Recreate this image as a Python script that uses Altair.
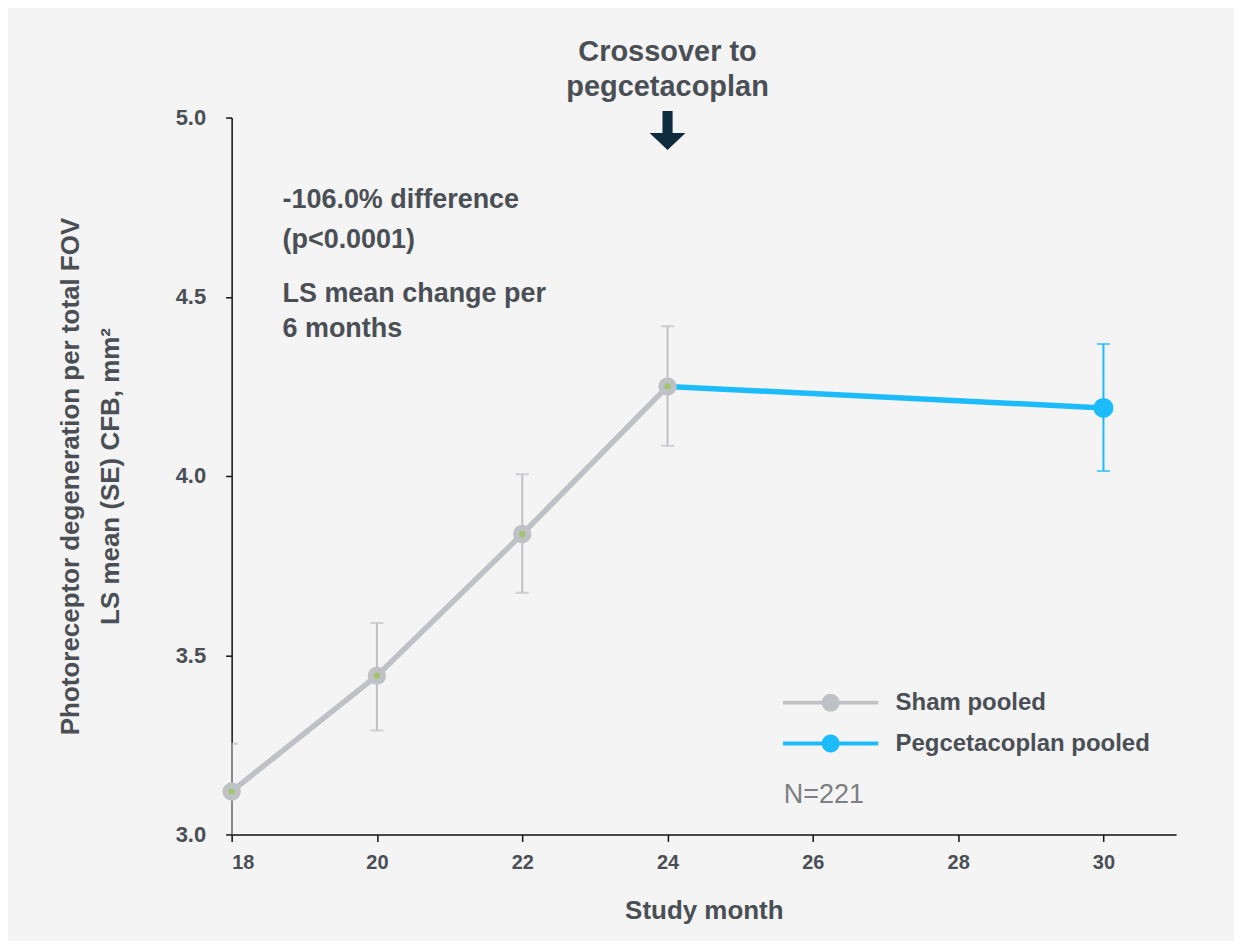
import altair as alt
import pandas as pd

# ---- data ----
sham_months = [18, 20, 22, 24]
sham_mean = [3.12, 3.443, 3.838, 4.25]
sham_lo = [2.987, 3.29, 3.674, 4.084]
sham_hi = [3.253, 3.59, 4.005, 4.418]

peg_months = [24, 30]
peg_mean = [4.25, 4.19]
peg_err_month = [30]
peg_err_lo = [4.014]
peg_err_hi = [4.368]

series_names = ["Sham pooled", "Pegcetacoplan pooled"]
series_colors = ["#bec2c7", "#1cbcfb"]
x_ticks = [18, 20, 22, 24, 26, 28, 30]
y_ticks = [3.0, 3.5, 4.0, 4.5, 5.0]

TXT = "#4a4f55"
FONT = "Liberation Sans"

line_df = pd.DataFrame(
    {"month": sham_months + peg_months,
     "value": sham_mean + peg_mean,
     "series": [series_names[0]] * len(sham_months) + [series_names[1]] * len(peg_months)}
)
sham_pts = pd.DataFrame({"month": sham_months, "value": sham_mean, "series": series_names[0]})
peg_pts = pd.DataFrame({"month": peg_months[1:], "value": peg_mean[1:], "series": series_names[1]})
err_df = pd.DataFrame(
    {"month": sham_months + peg_err_month,
     "lo": sham_lo + peg_err_lo,
     "hi": sham_hi + peg_err_hi,
     "series": [series_names[0]] * len(sham_months) + [series_names[1]] * len(peg_err_month)}
)
err_ticks = pd.concat([
    err_df[["month", "series"]].assign(value=err_df["lo"]),
    err_df[["month", "series"]].assign(value=err_df["hi"]),
])

xs = alt.Scale(domain=[18, 31], nice=False, zero=False)
ys = alt.Scale(domain=[3.0, 5.0], nice=False, zero=False)
cs = alt.Scale(domain=series_names, range=series_colors)

x_axis = alt.Axis(values=x_ticks, format="d", title="Study month")
y_axis = alt.Axis(values=y_ticks, format=".1f",
                  title=["Photoreceptor degeneration per total FOV", "LS mean (SE) CFB, mm²"])


def X(field="month"):
    return alt.X(f"{field}:Q", scale=xs, axis=x_axis)


def Y(field="value"):
    return alt.Y(f"{field}:Q", scale=ys, axis=y_axis)


color_legend = alt.Color("series:N", scale=cs, legend=alt.Legend(
    title=None, orient="none", legendX=588, legendY=574,
    symbolType="M-5.3,-0.22 L5.3,-0.22 L5.3,0.22 L-5.3,0.22 Z M-1,0 A1,1 0 1 1 1,0 A1,1 0 1 1 -1,0 Z",
    symbolSize=324, symbolStrokeWidth=0, labelOffset=53, labelFontSize=24,
    labelFontWeight="bold", labelColor=TXT, labelFont=FONT, rowPadding=17,
    symbolOpacity=1, labelLimit=400))
no_legend = alt.Color("series:N", scale=cs, legend=None)

rules = alt.Chart(err_df).mark_rule(strokeWidth=2, clip=True).encode(
    x=X(), y=Y("lo"), y2="hi:Q", color=no_legend)
caps = alt.Chart(err_ticks).mark_tick(thickness=2, size=13, orient="horizontal", clip=True).encode(
    x=X(), y=Y(), color=no_legend)

lines = alt.Chart(line_df).mark_line(strokeWidth=5.5, strokeCap="butt").encode(
    x=X(), y=Y(), color=color_legend, detail="series:N")

sham_dots = alt.Chart(sham_pts).mark_circle(size=340, opacity=1).encode(
    x=X(), y=Y(), color=no_legend)
sham_centers = alt.Chart(sham_pts).mark_circle(size=40, opacity=1, color="#a3c46c").encode(
    x=X(), y=Y())
peg_dots = alt.Chart(peg_pts).mark_circle(size=400, opacity=1).encode(
    x=X(), y=Y(), color=no_legend)

# annotations
ann_df = pd.DataFrame({
    "month": [18.70, 18.70, 18.70, 18.70],
    "value": [4.769, 4.658, 4.507, 4.409],
    "text": ["-106.0% difference", "(p<0.0001)", "LS mean change per", "6 months"],
})
ann = alt.Chart(ann_df).mark_text(align="left", baseline="middle", fontSize=27,
                                  fontWeight="bold", color=TXT, font=FONT).encode(
    x=X(), y=Y(), text="text:N")

cross_df = pd.DataFrame({"month": [24, 24], "value": [5.184, 5.084],
                         "text": ["Crossover to", "pegcetacoplan"]})
cross = alt.Chart(cross_df).mark_text(align="center", baseline="middle", fontSize=29,
                                      fontWeight="bold", color=TXT, font=FONT).encode(
    x=X(), y=Y(), text="text:N")

arrow_df = pd.DataFrame({"month": [24], "value": [4.964]})
arrow = alt.Chart(arrow_df).mark_point(
    shape="M-0.26,-1 L0.26,-1 L0.26,0.13 L0.92,0.13 L0,1 L-0.92,0.13 L-0.26,0.13 Z",
    size=1521, filled=True, opacity=1, color="#0f2c3f", strokeWidth=0).encode(
    x=X(), y=Y())

n_df = pd.DataFrame({"month": [25.60], "value": [3.111], "text": ["N=221"]})
ntext = alt.Chart(n_df).mark_text(align="left", baseline="middle", fontSize=27,
                                  color="#7d7f82", font=FONT).encode(
    x=X(), y=Y(), text="text:N")

chart = alt.layer(lines, rules, caps, sham_dots, sham_centers, peg_dots,
                  ann, cross, arrow, ntext).properties(
    width=946, height=718,
    padding={"left": 49, "top": 28, "right": 58, "bottom": 17},
    background="#f4f4f4",
).configure_view(stroke=None).configure_axis(
    grid=False, labelFont=FONT, titleFont=FONT, labelColor=TXT, titleColor=TXT,
    labelFontWeight="bold", titleFontWeight="bold", domainColor="#111",
    tickColor="#111", domainWidth=1.5, tickWidth=1.5,
).configure_axisX(
    labelFontSize=20, titleFontSize=26, tickSize=7, labelPadding=11, titlePadding=25,
).configure_axisY(
    labelFontSize=22, titleFontSize=26, tickSize=6, labelPadding=20, titlePadding=52,
    titleLineHeight=40,
)

chart.save("out.html", embed_options={"renderer": "svg", "actions": False})
